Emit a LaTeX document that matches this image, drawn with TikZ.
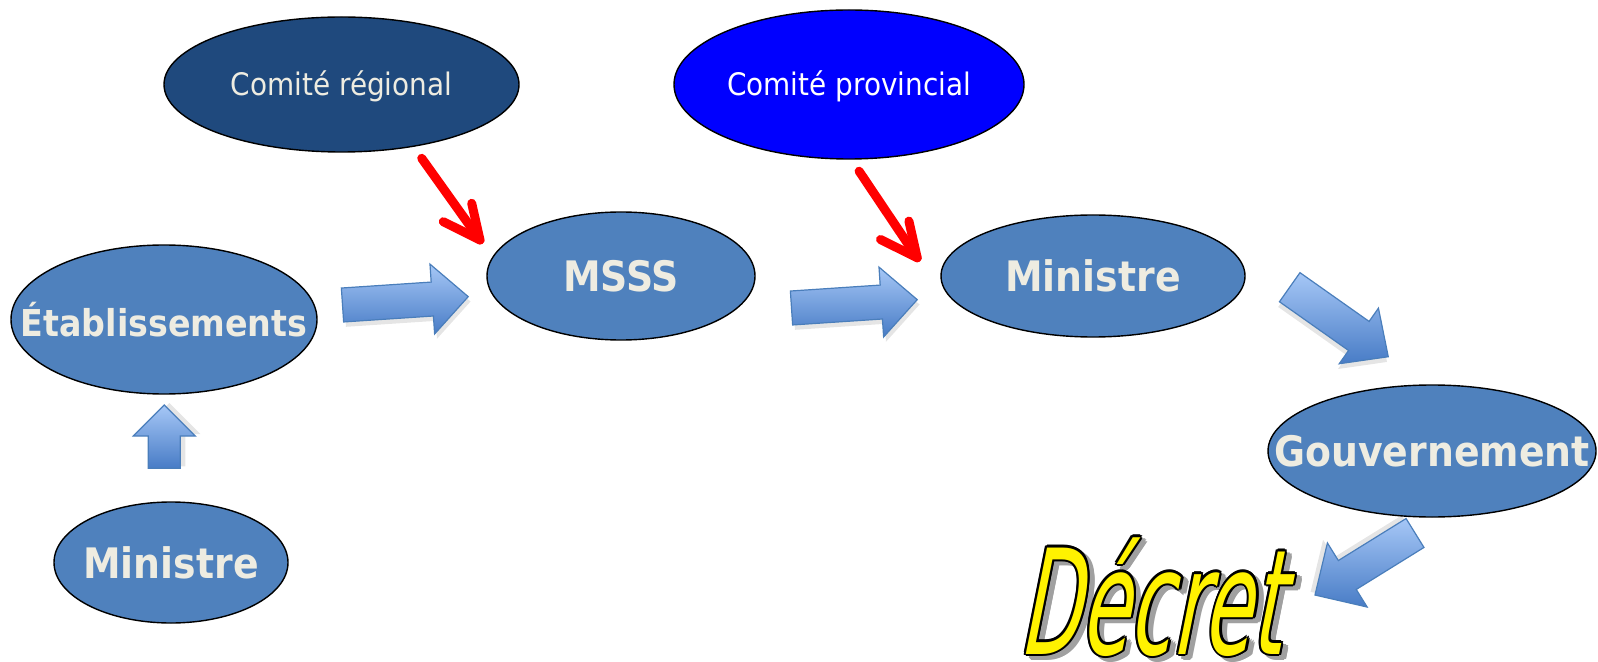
\documentclass[tikz,border=0pt]{standalone}
\usepackage{fontspec}
\usetikzlibrary{shapes.geometric}
\newfontfamily\condfont[FakeStretch=0.9]{DejaVu Sans}
\newfontfamily\decretfont[FakeStretch=0.54,FakeSlant=0.2]{DejaVu Sans}
\definecolor{nodeblue}{RGB}{79,129,189}
\definecolor{darknavy}{RGB}{31,73,125}
\definecolor{pureblue}{RGB}{0,0,255}
\definecolor{cream}{RGB}{238,236,225}
\definecolor{arrlight}{RGB}{166,199,246}
\definecolor{arrdark}{RGB}{72,124,198}
\definecolor{arredge}{RGB}{74,126,187}
\definecolor{shadowgray}{RGB}{160,160,160}
\tikzset{
  oval/.style={ellipse, draw=black, line width=0.7pt, inner sep=0pt, text=cream},
  bigtext/.style={font=\condfont\bfseries\fontsize{21}{24}\selectfont},
  smalltext/.style={font=\condfont\fontsize{15.5}{18}\selectfont},
  redarrow/.style={draw=red, line width=4.5pt, line cap=round, line join=round},
  dtext/.style={anchor=base, inner sep=0pt, font=\decretfont\fontsize{73}{76}\selectfont},
}
\newcommand\ctext[1]{\makebox[0pt]{#1}}
\newcommand\ltext[1]{\makebox[0pt]{\raisebox{-5.5pt}[0pt][0pt]{#1}}}
\newcommand\blockarrow[8]{% name, x, y, angle, length, shaft half, head half, head length
  \begin{scope}[shift={(#2,#3)}, rotate=#4]
    \fill[black, opacity=0.10, shift={(2,-5)}] (0,-#6) -- ({#5-#8},-#6) -- ({#5-#8},-#7) -- (#5,0) -- ({#5-#8},#7) -- ({#5-#8},#6) -- (0,#6) -- cycle;
    \shade[top color=arrlight, bottom color=arrdark, draw=arredge, line width=0.6pt, line join=miter]
      (0,-#6) -- ({#5-#8},-#6) -- ({#5-#8},-#7) -- (#5,0) -- ({#5-#8},#7) -- ({#5-#8},#6) -- (0,#6) -- cycle;
    \coordinate (#1) at (#5,0);
  \end{scope}}
\begin{document}
\begin{tikzpicture}[x=0.5pt,y=0.5pt]
\useasboundingbox (0,0) rectangle (1598,-662);
\fill[white] (0,0) rectangle (1598,-662);

% ellipses
\node[oval, fill=darknavy, minimum width=177.5pt, minimum height=67.5pt, smalltext] (creg) at (341.5,-84.5) {\ltext{Comité régional}};
\node[oval, fill=pureblue, minimum width=175pt, minimum height=74.5pt, smalltext, text=white] (cprov) at (849,-84.5) {\ltext{Comité provincial}};
\node[oval, fill=nodeblue, minimum width=153pt, minimum height=74.5pt, font=\condfont\bfseries\fontsize{18.5}{22}\selectfont] (etab) at (164,-319.5) {\ctext{Établissements}};
\node[oval, fill=nodeblue, minimum width=134pt, minimum height=64pt, bigtext] (msss) at (621,-276) {\ctext{MSSS}};
\node[oval, fill=nodeblue, minimum width=152pt, minimum height=61pt, bigtext] (min) at (1093,-276) {\ctext{Ministre}};
\node[oval, fill=nodeblue, minimum width=164pt, minimum height=66pt, bigtext] (gouv) at (1432,-451) {\ctext{Gouvernement}};
\node[oval, fill=nodeblue, minimum width=117pt, minimum height=60.5pt, bigtext] (minb) at (171,-562.5) {\ctext{Ministre}};

% block arrows
\blockarrow{a1}{342.5}{-305}{3.8}{126}{17}{35}{36}
\blockarrow{a2}{791.5}{-308}{3.8}{126}{17}{35}{36}
\blockarrow{a3}{1289.7}{-287.2}{-35.2}{120.6}{17.8}{34}{36}
\blockarrow{a4}{1415}{-533}{211.8}{117.7}{17}{37.7}{38}
\blockarrow{a5}{164.3}{-468.3}{90}{63.3}{16}{31}{31}

% red arrows
\coordinate (r1s) at (421.7,-158.3);
\coordinate (r1t) at (480,-240);
\coordinate (r1a) at (443.3,-221.7);
\coordinate (r1b) at (471.7,-203.3);
\coordinate (r2s) at (859.1,-171.2);
\coordinate (r2t) at (917.2,-257.8);
\coordinate (r2a) at (880.5,-239.5);
\coordinate (r2b) at (908.9,-221.1);
\draw[redarrow] (r1s) -- (r1t);
\draw[redarrow] (r1a) -- (r1t) -- (r1b);
\draw[redarrow] (r2s) -- (r2t);
\draw[redarrow] (r2a) -- (r2t) -- (r2b);

% Décret
\coordinate (dec) at (1150,-654);
\foreach \a in {0,45,...,315} {
  \node[dtext, text=shadowgray, shift={(5,-4)}, shift={(\a:2.2)}] (decs\a) at (dec) {Décret};
}
\foreach \a in {0,30,...,330} {
  \node[dtext, text=black, shift={(\a:2.2)}] (deco\a) at (dec) {Décret};
}
\node[dtext, text=yellow] (decret) at (dec) {Décret};
\end{tikzpicture}
\end{document}
